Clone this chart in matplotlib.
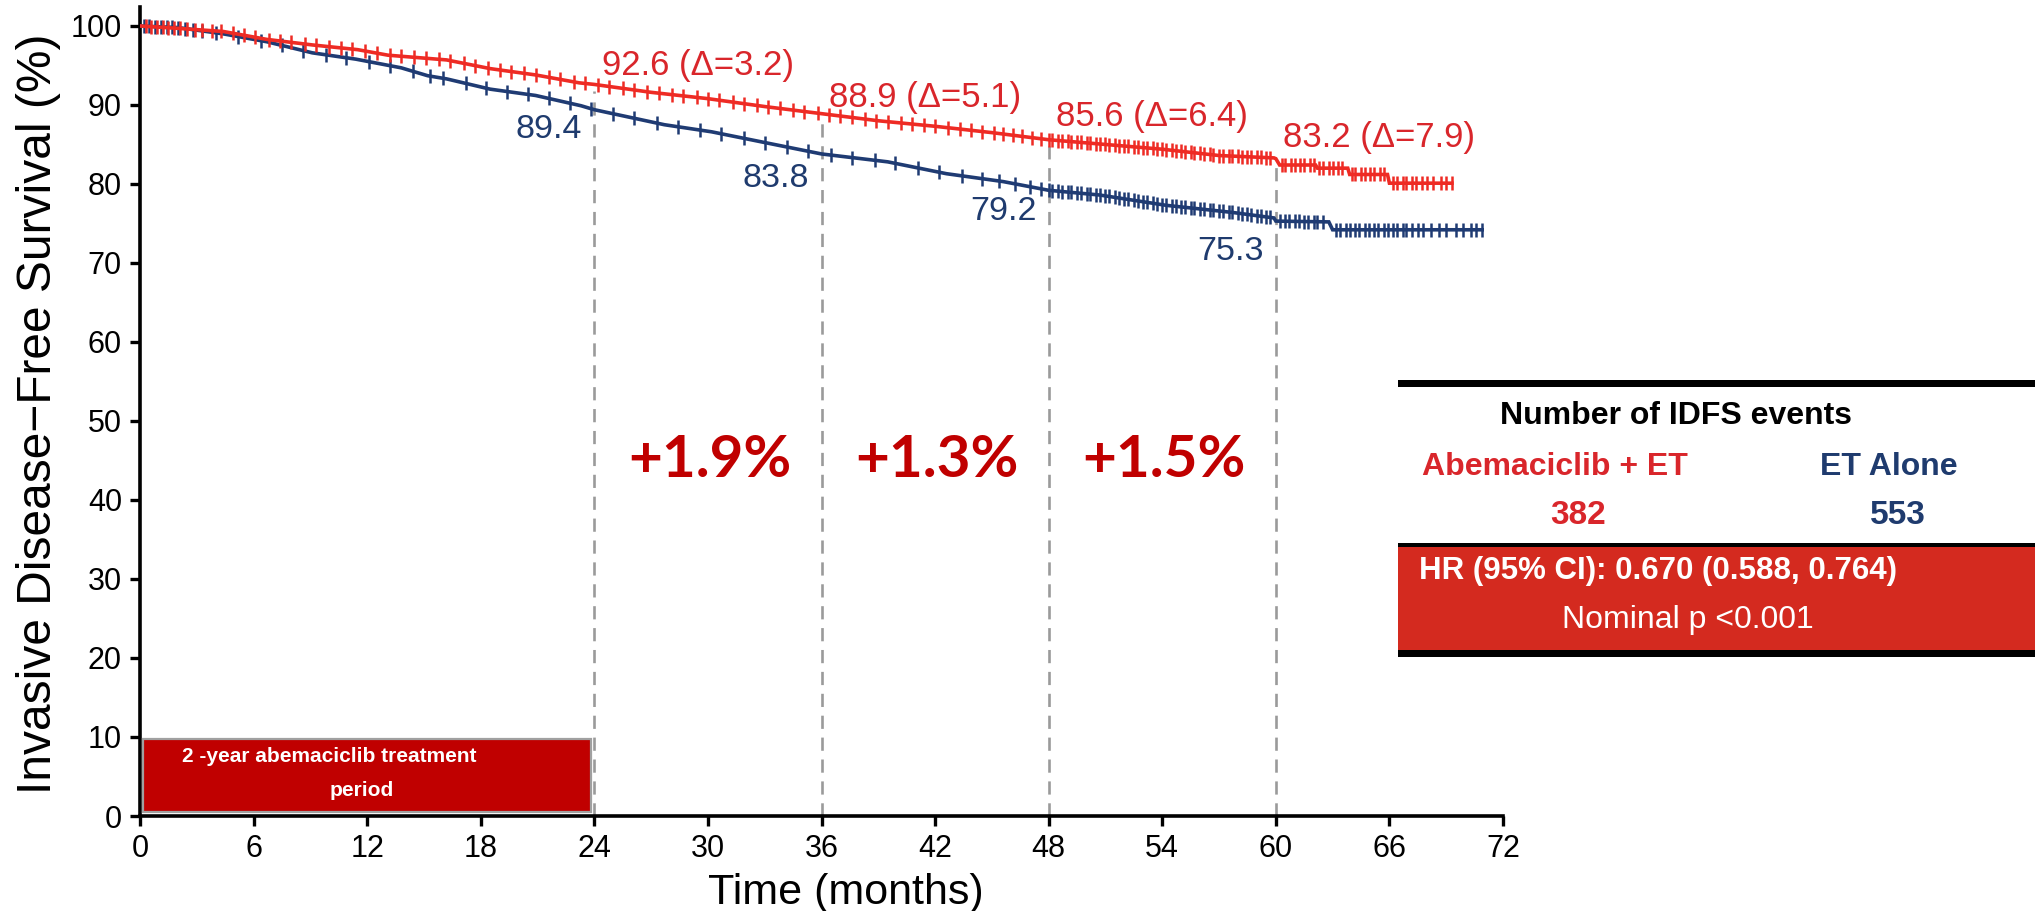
import matplotlib
matplotlib.use("Agg")
import matplotlib.pyplot as plt
import numpy as np
from matplotlib import font_manager
from matplotlib.patches import Rectangle

# ---------------- data ----------------
months = [0, 6, 12, 18, 24, 30, 36, 42, 48, 54, 60, 66, 72]
yticks = [0, 10, 20, 30, 40, 50, 60, 70, 80, 90, 100]

# Abemaciclib + ET Kaplan-Meier estimate (months, % event-free)
abema_t = [0, 2.0, 4.4, 6.7, 9.1, 11.5, 13.1, 16.2, 18.5, 20.9, 23.2, 24,
           27, 30, 33, 36, 39, 42, 45, 48, 51, 54, 57, 59.9, 60.0, 60.2,
           62.1, 62.2, 63.8, 63.9, 65.9, 66.0, 69.3]
abema_s = [100, 99.7, 99.3, 98.3, 97.6, 97.0, 96.3, 95.7, 94.6, 93.8, 92.8, 92.6,
           91.6, 90.8, 89.8, 88.9, 88.0, 87.3, 86.5, 85.6, 85.0, 84.4, 83.6, 83.3, 83.2, 82.4,
           82.4, 82.0, 82.0, 81.2, 81.2, 80.1, 80.1]

# ET alone Kaplan-Meier estimate
et_t = [0, 2.0, 4.4, 6.7, 9.1, 11.4, 13.8, 15.2, 16.2, 18.5, 20.9, 23.3, 24,
        27.7, 30.2, 33.3, 36, 39.5, 42.6, 45.6, 48, 50.7, 54.2, 57.7, 59.9, 60,
        62.8, 63.0, 70.9]
et_s = [100, 99.8, 99.0, 98.0, 96.6, 95.8, 94.7, 93.7, 93.3, 92.0, 91.2, 89.9, 89.4,
        87.5, 86.6, 85.1, 83.8, 82.8, 81.3, 80.3, 79.2, 78.6, 77.3, 76.4, 75.7, 75.3,
        75.2, 74.2, 74.2]

# censoring times
abema_cens = [0.3, 0.6, 0.9, 1.2, 1.5, 1.8, 2.1, 2.5, 2.9, 3.3, 3.8, 4.3, 4.9, 5.5,
              6.1, 6.8, 7.4, 8.0, 8.7, 9.3, 10.0, 10.6, 11.2, 11.9, 12.5, 13.2, 13.8,
              14.5, 15.1, 15.8, 16.4, 17.1, 17.7, 18.4, 19.0, 19.6, 20.3, 20.9, 21.6,
              22.2, 22.9, 23.5, 24.2, 24.8, 25.5, 26.1, 26.8, 27.4, 28.1, 28.7, 29.4,
              30.0, 30.6, 31.3, 31.9, 32.6, 33.2, 33.8, 34.5, 35.1, 35.8, 36.4, 37.0,
              37.6, 38.3, 38.9, 39.5, 40.2, 40.8, 41.4, 42.0, 42.7, 43.3, 43.9, 44.5,
              45.1, 45.6, 46.1, 46.6, 47.1, 47.6,
              48.0, 48.2, 48.5, 48.7, 49.0, 49.2, 49.5, 49.7, 50.0, 50.2, 50.5, 50.7,
              51.0, 51.2, 51.5, 51.7, 52.0, 52.2, 52.5, 52.7, 53.0, 53.2, 53.5, 53.7,
              54.0, 54.2, 54.5, 54.7, 55.0, 55.2, 55.5, 55.7, 56.0, 56.2, 56.5, 56.7,
              57.0, 57.2, 57.5, 57.7, 58.0, 58.2, 58.5, 58.7, 59.0, 59.2, 59.5, 59.7,
              60.3, 60.5, 60.8, 61.0, 61.3, 61.5, 61.8, 62.0, 62.3, 62.5, 62.8, 63.0,
              63.3, 63.5, 64.0, 64.2, 64.5, 64.7, 65.0, 65.2, 65.5, 65.7,
              66.2, 66.4, 66.7, 66.9, 67.2, 67.4, 67.7, 68.0, 68.3, 68.7, 69.0, 69.3]
et_cens = [0.2, 0.5, 0.8, 1.1, 1.4, 1.7, 2.0, 2.4, 2.8, 3.3, 4.0, 5.2, 6.4, 7.5, 8.6,
           9.8, 10.9, 12.1, 13.2, 14.4, 15.3, 16.0, 17.2, 18.3, 19.4, 20.5, 21.6,
           22.7, 23.8, 25.0, 26.1, 27.3, 28.4, 29.6, 30.7, 31.9, 33.0, 34.2, 35.3,
           36.5, 37.6, 38.8, 39.9, 41.1, 42.2, 43.4, 44.5, 45.4, 46.2, 47.0, 47.6,
           48.0, 48.2, 48.5, 48.7, 49.0, 49.2, 49.5, 49.7, 50.0, 50.2, 50.5, 50.7,
           51.0, 51.2, 51.5, 51.7, 52.0, 52.2, 52.5, 52.7, 53.0, 53.2, 53.5, 53.7,
           54.0, 54.2, 54.5, 54.7, 55.0, 55.2, 55.5, 55.7, 56.0, 56.2, 56.5, 56.7,
           57.0, 57.2, 57.5, 57.7, 58.0, 58.2, 58.5, 58.7, 59.0, 59.2, 59.5, 59.7,
           60.2, 60.5, 60.7, 61.0, 61.2, 61.5, 61.7, 62.0, 62.2, 62.5,
           63.2, 63.4, 63.7, 63.9, 64.2, 64.4, 64.7, 64.9, 65.2, 65.4, 65.7, 65.9,
           66.2, 66.4, 66.7, 66.9, 67.2, 67.5, 67.8, 68.2, 68.6, 69.0, 69.5, 69.9,
           70.3, 70.6, 70.9]

# landmark estimates
landmarks = [24, 36, 48, 60]
abema_land = [92.6, 88.9, 85.6, 83.2]
et_land = [89.4, 83.8, 79.2, 75.3]
deltas = [3.2, 5.1, 6.4, 7.9]
interval_gain = ["+1.9%", "+1.3%", "+1.5%"]
interval_mid = [30, 42, 54]

events_abema = 382
events_et = 553
hr_text = "HR (95% CI): 0.670 (0.588, 0.764)"
p_text = "Nominal p <0.001"

# ---------------- style ----------------
RED_LINE = "#EE2B24"
BLUE_LINE = "#1F3B73"
RED_TXT = "#D9262B"
BLUE_TXT = "#1F3B6E"
DARK_RED = "#C00000"
BOX_RED = "#D42A1F"


def have(name):
    try:
        font_manager.findfont(font_manager.FontProperties(family=name),
                              fallback_to_default=False)
        return True
    except Exception:
        return False


SANS = "Liberation Sans" if have("Liberation Sans") else "DejaVu Sans"
BIG = "Lato" if have("Lato") else SANS

W, H = 2035, 911
fig = plt.figure(figsize=(W / 100, H / 100), dpi=100)
fig.patch.set_facecolor("white")

x0, x1 = 140, 1503
y0, ytop = 816, 7
ax = fig.add_axes([x0 / W, 1 - y0 / H, (x1 - x0) / W, (y0 - ytop) / H])
ax.set_xlim(0, 72)
ax.set_ylim(0, 102.4)

for s in ["top", "right"]:
    ax.spines[s].set_visible(False)
for s in ["left", "bottom"]:
    ax.spines[s].set_linewidth(2.6)
    ax.spines[s].set_color("black")

ax.set_xticks(months)
ax.set_yticks(yticks)
ax.tick_params(axis="both", direction="out", length=7, width=2.4, pad=6,
               labelsize=22)
for lab in ax.get_xticklabels() + ax.get_yticklabels():
    lab.set_fontfamily(SANS)

ax.set_xlabel("Time (months)", fontsize=31, fontfamily=SANS)
ax.set_ylabel("Invasive Disease\u2212Free Survival (%)", fontsize=34.5,
              fontfamily=SANS)
ax.xaxis.set_label_coords(0.518, -0.070)
ax.yaxis.set_label_coords(-0.058, 0.497)

# landmark dashed lines
for t, v in zip(landmarks, abema_land):
    ax.plot([t, t], [0, v - 0.8], color="#9A9A9A", lw=1.9,
            linestyle=(0, (5.0, 3.3)), zorder=1)

# curves
ax.plot(abema_t, abema_s, color=RED_LINE, lw=2.6, zorder=4,
        solid_joinstyle="miter")
ax.plot(et_t, et_s, color=BLUE_LINE, lw=2.6, zorder=3,
        solid_joinstyle="miter")
ax.plot(abema_cens, np.interp(abema_cens, abema_t, abema_s), linestyle="none",
        marker="|", markersize=10, markeredgewidth=1.8, color=RED_LINE, zorder=4)
ax.plot(et_cens, np.interp(et_cens, et_t, et_s), linestyle="none",
        marker="|", markersize=10, markeredgewidth=1.8, color=BLUE_LINE, zorder=3)

# landmark labels
red_label_y = [95.0, 91.0, 88.6, 85.9]
blue_label_y = [86.9, 80.7, 76.5, 71.4]
for t, v, d, ly in zip(landmarks, abema_land, deltas, red_label_y):
    ax.text(t + 0.4, ly, f"{v:.1f} (\u0394={d:.1f})", color=RED_TXT,
            fontsize=25, fontfamily=SANS, ha="left", va="center")
for t, v, ly in zip(landmarks, et_land, blue_label_y):
    ax.text(t - 0.65, ly, f"{v:.1f}", color=BLUE_TXT, fontsize=24.5,
            fontfamily=SANS, ha="right", va="center")

# gains between landmarks
for xm, g in zip(interval_mid, interval_gain):
    ax.text(xm + 0.1, 45.0, g, color=DARK_RED, fontsize=42, fontweight="bold",
            fontfamily=BIG, ha="center", va="center")

# treatment period box
ax.add_patch(Rectangle((0.15, 0.45), 23.7, 9.3, facecolor=DARK_RED,
                       edgecolor="#A0A0A0", lw=1.6, zorder=5))
ax.text(10.0, 7.5, "2 -year abemaciclib treatment", color="white",
        fontsize=15, fontweight="bold", fontfamily=SANS, ha="center",
        va="center", zorder=6)
ax.text(11.7, 3.2, "period", color="white", fontsize=15, fontweight="bold",
        fontfamily=SANS, ha="center", va="center", zorder=6)


# ---------------- events table ----------------
def fx(px):
    return px / W


def fy(py):
    return 1 - py / H


def band(top, bottom, color):
    fig.add_artist(Rectangle((fx(1398), fy(bottom)), fx(W - 1398),
                             (bottom - top) / H, facecolor=color,
                             edgecolor="none", transform=fig.transFigure))


band(380, 387, "black")
band(543, 547, "black")
band(547, 650, BOX_RED)
band(650, 657, "black")

fig.text(fx(1676), fy(416), "Number of IDFS events", fontsize=23,
         fontweight="bold", fontfamily=SANS, color="black",
         ha="center", va="center")
fig.text(fx(1555), fy(467), "Abemaciclib + ET", fontsize=23,
         fontweight="bold", fontfamily=SANS, color=RED_TXT,
         ha="center", va="center")
fig.text(fx(1889), fy(467), "ET Alone", fontsize=23, fontweight="bold",
         fontfamily=SANS, color=BLUE_TXT, ha="center", va="center")
fig.text(fx(1578), fy(515), str(events_abema), fontsize=24,
         fontweight="bold", fontfamily=SANS, color=RED_TXT,
         ha="center", va="center")
fig.text(fx(1898), fy(515), str(events_et), fontsize=24, fontweight="bold",
         fontfamily=SANS, color=BLUE_TXT, ha="center", va="center")
fig.text(fx(1419), fy(571), hr_text, fontsize=22.5, fontweight="bold",
         fontfamily=SANS, color="white", ha="left", va="center")
fig.text(fx(1688), fy(620), p_text, fontsize=23, fontfamily=SANS,
         color="white", ha="center", va="center")

fig.savefig("out.png", dpi=100, facecolor="white")
